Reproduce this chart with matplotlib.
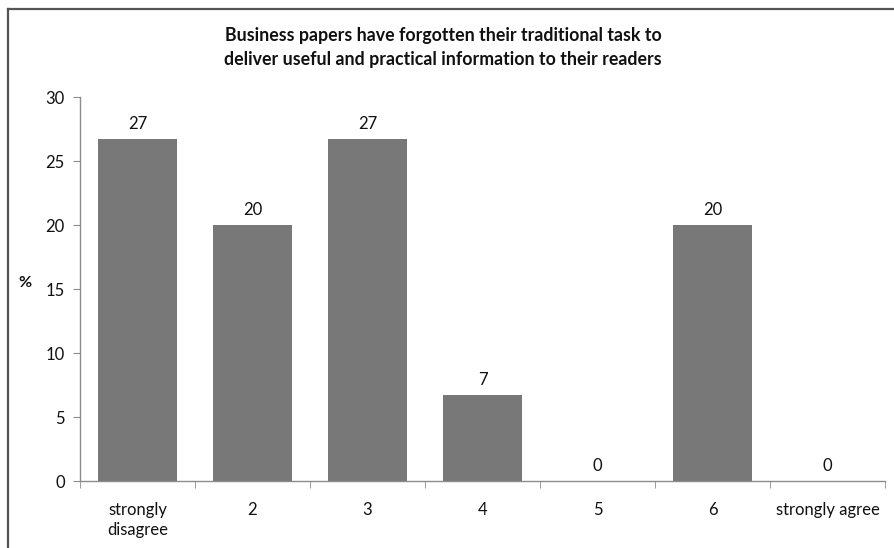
import matplotlib
matplotlib.use("Agg")
import matplotlib.pyplot as plt
from matplotlib.lines import Line2D
import numpy as np

categories = ["strongly\ndisagree", "2", "3", "4", "5", "6", "strongly agree"]
percent = [26.7, 20.0, 26.7, 6.7, 0.0, 20.0, 0.0]
y_ticks = [0, 5, 10, 15, 20, 25, 30]
title = ("Business papers have forgotten their traditional task to\n"
         "deliver useful and practical information to their readers")

plt.rcParams["font.family"] = ["Lato", "DejaVu Sans"]

W, H = 895, 548
fig = plt.figure(figsize=(W / 100, H / 100), dpi=100)
ax = fig.add_axes([80 / W, 1 - 481 / H, (885 - 80) / W, (481 - 97) / H])

x = np.arange(len(categories))
bars = ax.bar(x, percent, width=0.68, color="#787878", zorder=2)

for xi, v in zip(x, percent):
    ax.annotate(f"{v:.0f}", (xi, v), xytext=(0, 5), textcoords="offset points",
                ha="center", va="bottom", fontsize=12, color="#111111")

ax.set_xlim(-0.5, len(categories) - 0.5)
ax.set_ylim(0, 30)
ax.set_yticks(y_ticks)
ax.set_yticklabels([str(t) for t in y_ticks], fontsize=12, color="#111111")

ax.set_xticks(x)
ax.set_xticklabels(categories, fontsize=12, color="#111111", linespacing=1.35)
ax.set_xticks(np.arange(-0.5, len(categories)), minor=True)
ax.tick_params(axis="x", which="major", length=0, pad=15)
ax.tick_params(axis="x", which="minor", length=5, color="#8c8c8c", direction="out")
ax.tick_params(axis="y", length=5, color="#8c8c8c", direction="out", pad=6)

for side in ("top", "right"):
    ax.spines[side].set_visible(False)
for side in ("left", "bottom"):
    ax.spines[side].set_color("#8c8c8c")
    ax.spines[side].set_linewidth(1.0)

fig.text(18 / W, 1 - 283 / H, "%", fontsize=11.5, fontweight="bold",
         ha="left", va="center", color="#111111")
fig.text(443 / W, 1 - 47 / H, title, fontsize=12.8, fontweight="bold",
         ha="center", va="center", linespacing=1.5, color="#111111")

# outer chart frame (top and left edges)
fig.add_artist(Line2D([8 / W, 1.0], [1 - 9 / H, 1 - 9 / H], color="#555555",
                      linewidth=1.6, transform=fig.transFigure))
fig.add_artist(Line2D([8 / W, 8 / W], [0.0, 1 - 9 / H], color="#555555",
                      linewidth=1.6, transform=fig.transFigure))

fig.savefig("out.png", dpi=100, facecolor="white")
